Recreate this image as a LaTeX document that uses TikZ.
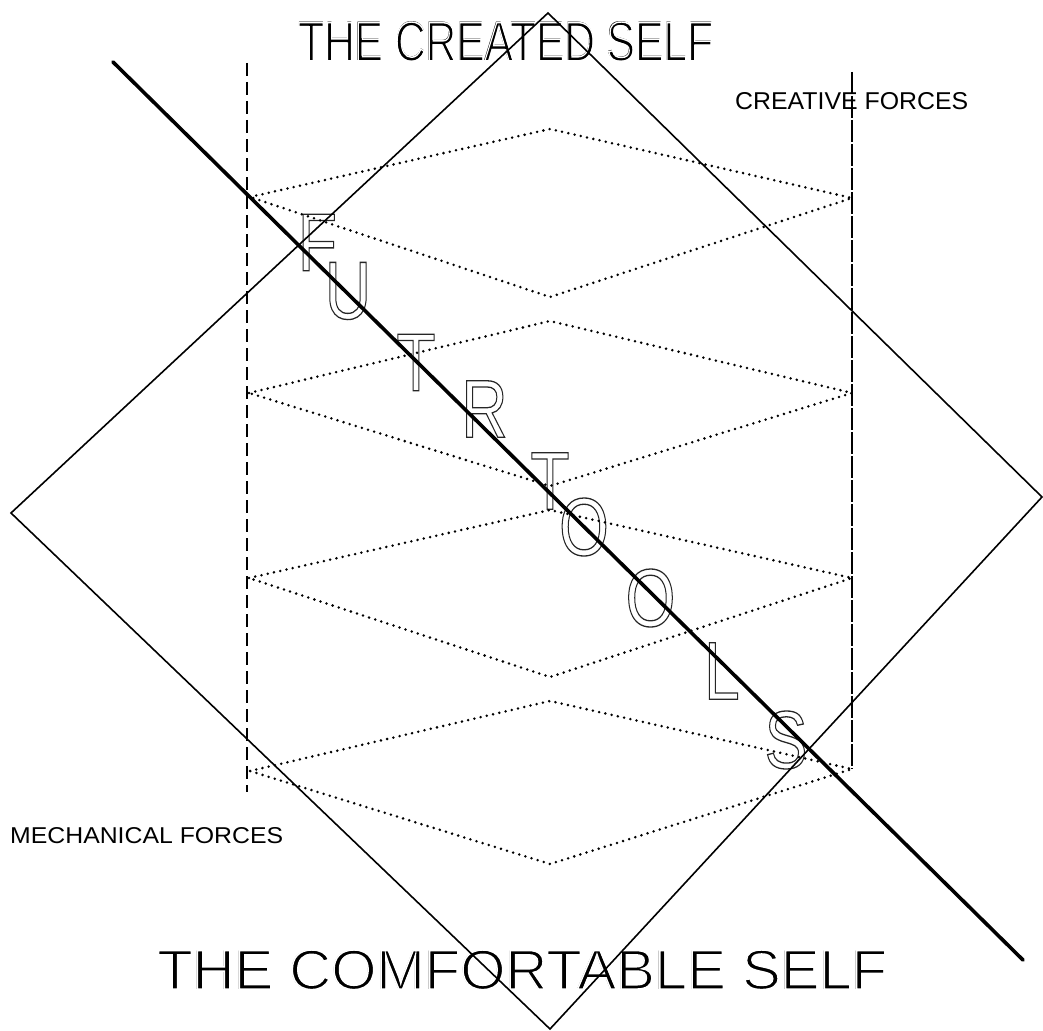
\documentclass[tikz,border=0pt]{standalone}
\usepackage{fontspec}
\usepackage{graphicx}
\newfontfamily\lbs{Liberation Sans}
% thin solid text: black fill, then eroded by a white outline stroke
\newcommand\thintext[3]{{\fontsize{#1}{#1}\lbs\rlap{#3}\special{pdf:literal direct 1 Tr #2 w}\textcolor{white}{#3}\special{pdf:literal direct 0 Tr}}}
\newcommand\fitline[5]{\resizebox{#1pt}{#2pt}{\thintext{#3}{#4}{#5}}}
\newcommand\fitplain[4]{\resizebox{#1pt}{#2pt}{\fontsize{#3}{#3}\lbs #4}}
\newcommand\hollow[1]{\scalebox{0.78}[1]{\fontsize{82}{82}\lbs\special{pdf:literal direct 1 Tr 1.3 w}#1\special{pdf:literal direct 0 Tr}}}
\begin{document}
\begin{tikzpicture}[x=1pt,y=-1pt,
  frame/.style={draw=black, line width=1.6pt, line join=miter},
  axisline/.style={draw=black, line width=3.6pt, line cap=round},
  leftdash/.style={draw=black, line width=1.9pt, dash pattern=on 13pt off 6pt},
  rightdash/.style={draw=black, line width=1.5pt, dash pattern=on 22pt off 2pt},
  dots/.style={draw=black, line width=2.8pt, line cap=round, dash pattern=on 0pt off 6.4pt},
  title/.style={inner sep=0pt, anchor=base west},
  letter/.style={inner sep=0pt, anchor=center, text=black!85}]
\useasboundingbox (0,0) rectangle (1043,1030);
% titles and labels
\node[title] (created) at (298,61) {\fitline{415}{39}{54}{1.4}{THE CREATED SELF}};
\node[title] (comfort) at (157,989) {\fitline{730}{39}{54}{1.4}{THE COMFORTABLE SELF}};
\node[title] (crf) at (735,110) {\fitplain{233}{17}{24}{CREATIVE FORCES}};
\node[title] (mef) at (10,843) {\fitplain{273}{16}{23}{MECHANICAL FORCES}};
% FUTRTOOLS letters along the diagonal
\node[letter] (lF)  at (317.5,242.5) {\hollow{F}};
\node[letter] (lU)  at (348,291)     {\hollow{U}};
\node[letter] (lT1) at (416,362.5)   {\hollow{T}};
\node[letter] (lR)  at (484.5,409)   {\hollow{R}};
\node[letter] (lT2) at (550,481)     {\hollow{T}};
\node[letter] (lO1) at (584,527)     {\hollow{O}};
\node[letter] (lO2) at (650.5,598)   {\hollow{O}};
\node[letter] (lL)  at (722,671)     {\hollow{L}};
\node[letter] (lS)  at (786,740)     {\hollow{S}};
% dotted rhombi
\foreach \i/\l/\c/\t/\b/\r in {1/250/197/129/297/198, 2/249/393/321/486/393, 3/249/578/510/677/578, 4/250/771/701/864/769}{
  \coordinate (rL\i) at (\l,\c);
  \coordinate (rT\i) at (550,\t);
  \coordinate (rR\i) at (852,\r);
  \coordinate (rB\i) at (550,\b);
  \draw[dots] (rL\i) -- (rT\i) -- (rR\i) -- (rB\i) -- cycle;
}
% big diamond
\coordinate (dT) at (548,13);
\coordinate (dR) at (1042,497);
\coordinate (dB) at (550,1029);
\coordinate (dL) at (11,513);
\draw[frame] (dT) -- (dR) -- (dB) -- (dL) -- cycle;
% vertical force lines
\coordinate (lt) at (247,63);
\coordinate (lb) at (247,792);
\coordinate (rt) at (852,72);
\coordinate (rb) at (852,769);
\draw[leftdash] (lt) -- (lb);
\draw[rightdash] (rt) -- (rb);
% thick diagonal
\coordinate (a1) at (113,62);
\coordinate (a2) at (1023,960);
\draw[axisline] (a1) -- (a2);
\end{tikzpicture}
\end{document}
